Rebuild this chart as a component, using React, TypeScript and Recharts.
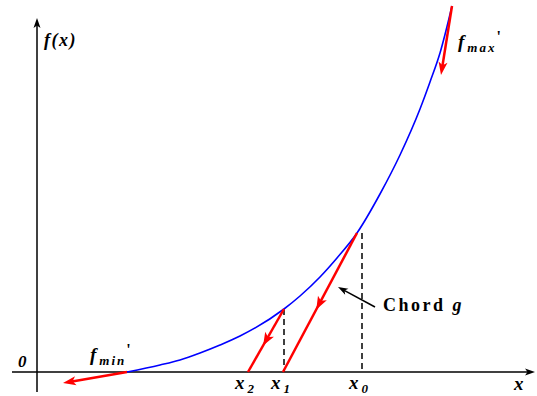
import React from "react";
import {
  ComposedChart,
  Line,
  ReferenceDot,
  ReferenceLine,
  XAxis,
  YAxis,
} from "recharts";

// f(x)
const curveX = [0.9, 1.23, 1.43, 1.63, 1.83, 2.03, 2.47, 2.63, 2.83, 3.0, 3.2, 3.43, 3.63, 3.83, 3.93, 4.03, 4.15];
const curveY = [0, 0.07, 0.12, 0.19, 0.27, 0.36, 0.63, 0.76, 0.95, 1.14, 1.39, 1.78, 2.17, 2.63, 2.9, 3.19, 3.66];

// iterates x0, x1, x2 and f at each
const rootNames = ["0", "1", "2"];
const rootX = [3.25, 2.47, 2.11];
const rootF = [1.39, 0.63, 0];

// chords from the curve down to the next iterate
const chordFrom = [
  [3.2, 1.39],
  [2.47, 0.63],
];
const chordTo = [
  [2.46, 0],
  [2.11, 0],
];
const chordArrowAt = [0.55, 0.58];

// slopes at both ends of the curve
const fMaxLine = [
  [4.15, 3.66],
  [4.04, 2.97],
];
const fMinLine = [
  [0.9, 0],
  [0.26, -0.11],
];

// pointer to the "Chord g" label
const pointerLine = [
  [3.38, 0.65],
  [3.01, 0.85],
];

const xDomain: [number, number] = [-0.37, 5.0];
const yDomain: [number, number] = [-0.24, 3.72];

const serif = '"Liberation Serif", "Times New Roman", serif';
const RED = "#ff0000";
const BLUE = "#0000ff";

const curveData = curveX.map((x, i) => ({ x, y: curveY[i] }));

function arrowShape(
  color: string,
  width: number,
  at: number,
  len: number,
  half: number,
) {
  return (p: any) => {
    const x1 = Number(p.x1);
    const y1 = Number(p.y1);
    const x2 = Number(p.x2);
    const y2 = Number(p.y2);
    const dx = x2 - x1;
    const dy = y2 - y1;
    const L = Math.hypot(dx, dy) || 1;
    const ux = dx / L;
    const uy = dy / L;
    const tx = x1 + dx * at;
    const ty = y1 + dy * at;
    const bx = tx - ux * len;
    const by = ty - uy * len;
    const nx = -uy * half;
    const ny = ux * half;
    const mx = bx + ux * len * 0.25;
    const my = by + uy * len * 0.25;
    const ex = at >= 1 ? bx + ux * len * 0.4 : x2;
    const ey = at >= 1 ? by + uy * len * 0.4 : y2;
    return (
      <g>
        <line x1={x1} y1={y1} x2={ex} y2={ey} stroke={color} strokeWidth={width} />
        <polygon
          points={`${tx},${ty} ${bx + nx},${by + ny} ${mx},${my} ${bx - nx},${by - ny}`}
          fill={color}
        />
      </g>
    );
  };
}

const mathStyle: React.CSSProperties = {
  fontFamily: serif,
  fontWeight: 700,
  fontStyle: "italic",
};

function xLabel(sub: string) {
  return (p: any) => (
    <text x={p.cx} y={p.cy} style={{ ...mathStyle, fontSize: 19 }} fill="#000">
      x
      <tspan dx={3} dy={4} style={{ fontSize: 13 }}>
        {sub}
      </tspan>
    </text>
  );
}

function fLabel(sub: string) {
  return (p: any) => (
    <text x={p.cx} y={p.cy} style={{ ...mathStyle, fontSize: 19 }} fill="#000">
      f
      <tspan dx={3} dy={4} style={{ fontSize: 13, letterSpacing: 2 }}>
        {sub}
      </tspan>
      <tspan dx={0} dy={-10} style={{ fontSize: 16, fontStyle: "normal" }}>
        '
      </tspan>
    </text>
  );
}

export default function App() {
  return (
    <div style={{ position: "absolute", left: 0, top: 0, background: "#fff" }}>
      <ComposedChart
        width={537}
        height={396}
        margin={{ top: 0, right: 0, bottom: 0, left: 0 }}
      >
        <XAxis
          type="number"
          dataKey="x"
          domain={xDomain}
          allowDataOverflow
          hide
        />
        <YAxis type="number" domain={yDomain} allowDataOverflow hide />

        {/* axes with arrow heads */}
        <ReferenceLine
          segment={[
            { x: -0.25, y: 0 },
            { x: 4.98, y: 0 },
          ]}
          shape={arrowShape("#000", 1.5, 1, 10, 3.5)}
        />
        <ReferenceLine
          segment={[
            { x: 0, y: -0.2 },
            { x: 0, y: 3.54 },
          ]}
          shape={arrowShape("#000", 1.5, 1, 10, 3.5)}
        />

        {/* dashed drops from the curve */}
        {rootX.slice(0, 2).map((x, i) => (
          <ReferenceLine
            key={`drop-${i}`}
            segment={[
              { x, y: rootF[i] },
              { x, y: 0 },
            ]}
            stroke="#000"
            strokeWidth={1.5}
            strokeDasharray="6 4"
          />
        ))}

        <Line
          data={curveData}
          dataKey="y"
          type="monotone"
          stroke={BLUE}
          strokeWidth={1.6}
          dot={false}
          activeDot={false}
          isAnimationActive={false}
        />

        {chordFrom.map((a, i) => (
          <ReferenceLine
            key={`chord-${i}`}
            segment={[
              { x: a[0], y: a[1] },
              { x: chordTo[i][0], y: chordTo[i][1] },
            ]}
            shape={arrowShape(RED, 2.5, chordArrowAt[i], 13, 5)}
          />
        ))}
        <ReferenceLine
          segment={[
            { x: fMaxLine[0][0], y: fMaxLine[0][1] },
            { x: fMaxLine[1][0], y: fMaxLine[1][1] },
          ]}
          shape={arrowShape(RED, 2.5, 1, 13, 4.5)}
        />
        <ReferenceLine
          segment={[
            { x: fMinLine[0][0], y: fMinLine[0][1] },
            { x: fMinLine[1][0], y: fMinLine[1][1] },
          ]}
          shape={arrowShape(RED, 2.5, 1, 13, 4.5)}
        />
        <ReferenceLine
          segment={[
            { x: pointerLine[0][0], y: pointerLine[0][1] },
            { x: pointerLine[1][0], y: pointerLine[1][1] },
          ]}
          shape={arrowShape("#000", 1.5, 1, 10, 3.5)}
        />

        {/* labels */}
        <ReferenceDot
          x={0.07}
          y={3.26}
          shape={(p: any) => (
            <text x={p.cx} y={p.cy} style={{ ...mathStyle, fontSize: 18, letterSpacing: 1.5 }}>
              f(x)
            </text>
          )}
        />
        <ReferenceDot
          x={-0.19}
          y={0.05}
          shape={(p: any) => (
            <text x={p.cx} y={p.cy} style={{ ...mathStyle, fontSize: 17 }}>
              0
            </text>
          )}
        />
        <ReferenceDot x={0.53} y={0.11} shape={fLabel("min")} />
        <ReferenceDot x={4.21} y={3.24} shape={fLabel("max")} />
        <ReferenceDot
          x={3.46}
          y={0.61}
          shape={(p: any) => (
            <text
              x={p.cx}
              y={p.cy}
              style={{ fontFamily: serif, fontWeight: 700, fontSize: 18, letterSpacing: 2.5 }}
            >
              Chord <tspan style={{ fontStyle: "italic" }}>g</tspan>
            </text>
          )}
        />
        {rootX.map((x, i) => (
          <ReferenceDot
            key={`xl-${i}`}
            x={x - 0.13}
            y={-0.17}
            shape={xLabel(rootNames[i])}
          />
        ))}
        <ReferenceDot x={4.77} y={-0.18} shape={xLabel("")} />
      </ComposedChart>
    </div>
  );
}
